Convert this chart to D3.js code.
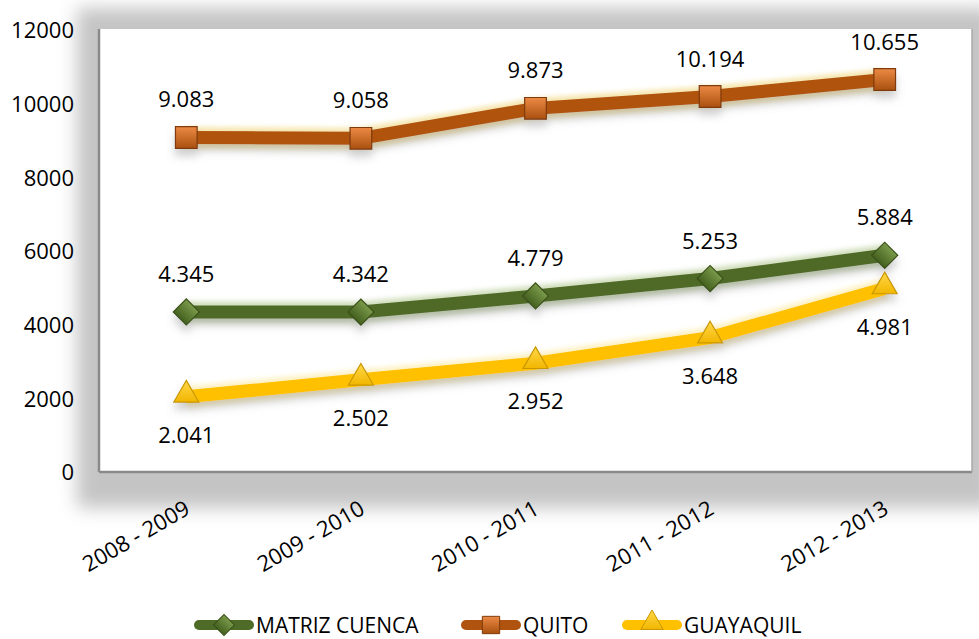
<!DOCTYPE html>
<html>
<head>
<meta charset="utf-8">
<script src="https://cdn.jsdelivr.net/npm/d3@7"></script>
<style>
  body { margin: 0; background: #fff; }
  #chart text { font-family: "Open Sans", sans-serif; fill: #000; }
</style>
</head>
<body>
<div id="chart"></div>
<script>
var categories = ["2008 - 2009", "2009 - 2010", "2010 - 2011", "2011 - 2012", "2012 - 2013"];
var cuencaValues = [4345, 4342, 4779, 5253, 5884];
var quitoValues = [9083, 9058, 9873, 10194, 10655];
var guayaquilValues = [2041, 2502, 2952, 3648, 4981];
var yTicks = [0, 2000, 4000, 6000, 8000, 10000, 12000];
var seriesNames = ["MATRIZ CUENCA", "QUITO", "GUAYAQUIL"];

var width = 979, height = 639;
var plot = {left: 99, top: 30, right: 972, bottom: 472};

var svg = d3.select("#chart")
  .append("svg")
    .attr("width", width)
    .attr("height", height);

var defs = svg.append("defs");

// soft shadow round the plot frame
var frameShadow = defs.append("filter").attr("id", "frameShadow")
    .attr("x", "-10%").attr("y", "-20%").attr("width", "120%").attr("height", "140%");
frameShadow.append("feGaussianBlur").attr("stdDeviation", 9);

// shadow under the lines
var lineShadow = defs.append("filter").attr("id", "lineShadow")
    .attr("x", "-10%").attr("y", "-50%").attr("width", "120%").attr("height", "200%");
lineShadow.append("feGaussianBlur").attr("in", "SourceAlpha").attr("stdDeviation", 4).attr("result", "b");
lineShadow.append("feOffset").attr("dy", 7).attr("result", "o");
lineShadow.append("feFlood").attr("flood-color", "#777").attr("flood-opacity", 0.35);
lineShadow.append("feComposite").attr("in2", "o").attr("operator", "in").attr("result", "s");
var merge = lineShadow.append("feMerge");
merge.append("feMergeNode").attr("in", "s");
merge.append("feMergeNode").attr("in", "SourceGraphic");

var glow = defs.append("filter").attr("id", "glow")
    .attr("x", "-10%").attr("y", "-50%").attr("width", "120%").attr("height", "200%");
glow.append("feGaussianBlur").attr("stdDeviation", 2.5);

function addGrad(id, top, bottom){
  var g = defs.append("linearGradient").attr("id", id)
      .attr("x1", 0).attr("y1", 0).attr("x2", 0).attr("y2", 1);
  g.append("stop").attr("offset", "0%").attr("stop-color", top);
  g.append("stop").attr("offset", "100%").attr("stop-color", bottom);
}
addGrad("gCuenca", "#7a9a4a", "#44601f");
addGrad("gQuito", "#ec8a45", "#a9500f");
addGrad("gGuaya", "#ffd84a", "#f2b600");

// frame
svg.append("rect")
  .attr("x", plot.left - 22).attr("y", plot.top - 22)
  .attr("width", plot.right - plot.left + 44).attr("height", plot.bottom - plot.top + 58)
  .style("fill", "#c4c4c4")
  .attr("filter", "url(#frameShadow)");
svg.append("rect")
  .attr("x", plot.left).attr("y", plot.top - 1)
  .attr("width", plot.right - plot.left).attr("height", plot.bottom - plot.top + 1)
  .style("fill", "#fff");
svg.append("line").attr("x1", plot.left).attr("x2", plot.left).attr("y1", plot.top - 1).attr("y2", plot.bottom)
  .style("stroke", "#8a8a8a").style("stroke-width", 2.5);
svg.append("line").attr("x1", plot.left).attr("x2", plot.right).attr("y1", plot.bottom).attr("y2", plot.bottom)
  .style("stroke", "#8a8a8a").style("stroke-width", 2.5);
svg.append("line").attr("x1", plot.right).attr("x2", plot.right).attr("y1", plot.top - 1).attr("y2", plot.bottom)
  .style("stroke", "#a8a8a8").style("stroke-width", 1.5);

var x = d3.scaleBand()
    .domain(categories)
    .range([plot.left, plot.right])
    .padding(0);
function cx(i){ return x(categories[i]) + x.bandwidth() / 2; }

var y = d3.scaleLinear()
    .domain([0, 12000])
    .range([plot.bottom, plot.top]);

// y axis
var gy = svg.append("g")
    .attr("transform", "translate(" + plot.left + ",0)")
    .call(d3.axisLeft(y).tickValues(yTicks).tickSize(0).tickPadding(25).tickFormat(d3.format("d")));
gy.select(".domain").remove();
gy.selectAll("text")
    .style("font-size", "22px")
    .style("font-family", "Open Sans")
    .attr("dy", "0.36em");

// x axis
var gx = svg.append("g")
    .attr("transform", "translate(0," + plot.bottom + ")")
    .call(d3.axisBottom(x).tickSize(0));
gx.select(".domain").remove();
gx.selectAll("text")
    .style("font-size", "22px")
    .style("font-family", "Open Sans")
    .style("text-anchor", "end")
    .attr("x", 6)
    .attr("y", 0)
    .attr("dy", 0)
    .attr("transform", "translate(0,44)rotate(-30)");

var fmt = d3.formatLocale({decimal: ",", thousands: ".", grouping: [3], currency: ["", ""]}).format(",");

var series = [
  {name: seriesNames[0], values: cuencaValues, color: "#4f6b28", glowColor: "#c9d9b0", marker: "diamond", grad: "gCuenca", edge: "#3a5019", labelDy: -30},
  {name: seriesNames[1], values: quitoValues, color: "#b0530f", glowColor: "#f5e2a0", marker: "square", grad: "gQuito", edge: "#7f3a08", labelDy: -30},
  {name: seriesNames[2], values: guayaquilValues, color: "#ffc000", glowColor: "#fff0b8", marker: "triangle", grad: "gGuaya", edge: "#c99700", labelDy: 46}
];

var line = d3.line()
    .x(function(d, i){ return cx(i); })
    .y(function(d){ return y(d); });

function markerPath(type){
  if(type == "diamond") return d3.symbol().type(d3.symbolSquare).size(340)();
  if(type == "square") return d3.symbol().type(d3.symbolSquare).size(470)();
  return d3.symbol().type(d3.symbolTriangle).size(270)();
}
function markerRot(type){ return type == "diamond" ? 45 : 0; }

var drawOrder = [1, 0, 2];
drawOrder.forEach(function(k){
  var s = series[k];
  var g = svg.append("g");
  g.append("path")
    .attr("d", line(s.values))
    .style("fill", "none")
    .style("stroke", s.glowColor)
    .style("stroke-width", 21)
    .style("opacity", 0.85)
    .attr("filter", "url(#glow)");
  var inner = g.append("g").attr("filter", "url(#lineShadow)");
  inner.append("path")
    .attr("d", line(s.values))
    .style("fill", "none")
    .style("stroke", s.color)
    .style("stroke-width", 13);
  inner.selectAll(".mk")
    .data(s.values)
    .enter().append("path")
    .attr("class", "mk")
    .attr("d", markerPath(s.marker))
    .attr("transform", function(d, i){
      var yy = y(d) + (s.marker == "triangle" ? -2 : 0);
      return "translate(" + cx(i) + "," + yy + ")rotate(" + markerRot(s.marker) + ")";
    })
    .style("fill", "url(#" + s.grad + ")")
    .style("stroke", s.edge)
    .style("stroke-width", 1.2);
  g.selectAll(".lbl")
    .data(s.values)
    .enter().append("text")
    .attr("class", "lbl")
    .attr("x", function(d, i){ return cx(i); })
    .attr("y", function(d){ return y(d) + s.labelDy; })
    .style("text-anchor", "middle")
    .style("font-size", "22px")
    .text(function(d){ return fmt(d); });
});

// legend
var legendX = [195, 462, 623];
var legend = svg.append("g");
series.forEach(function(s, i){
  var lx = legendX[i], ly = 625;
  legend.append("line")
    .attr("x1", lx + 4).attr("x2", lx + 54)
    .attr("y1", ly).attr("y2", ly)
    .style("stroke", s.color)
    .style("stroke-width", 10)
    .style("stroke-linecap", "round");
  legend.append("path")
    .attr("transform", "translate(" + (lx + 29) + "," + (ly + (s.marker == "triangle" ? -2 : 0)) + ")rotate(" + markerRot(s.marker) + ")")
    .attr("d", s.marker == "triangle" ? d3.symbol().type(d3.symbolTriangle).size(220)() : d3.symbol().type(d3.symbolSquare).size(s.marker == "diamond" ? 220 : 300)())
    .style("fill", "url(#" + s.grad + ")")
    .style("stroke", s.edge)
    .style("stroke-width", 1);
  legend.append("text")
    .attr("x", lx + 61)
    .attr("y", ly + 8)
    .style("font-size", "21px")
    .text(s.name);
});
</script>
</body>
</html>
